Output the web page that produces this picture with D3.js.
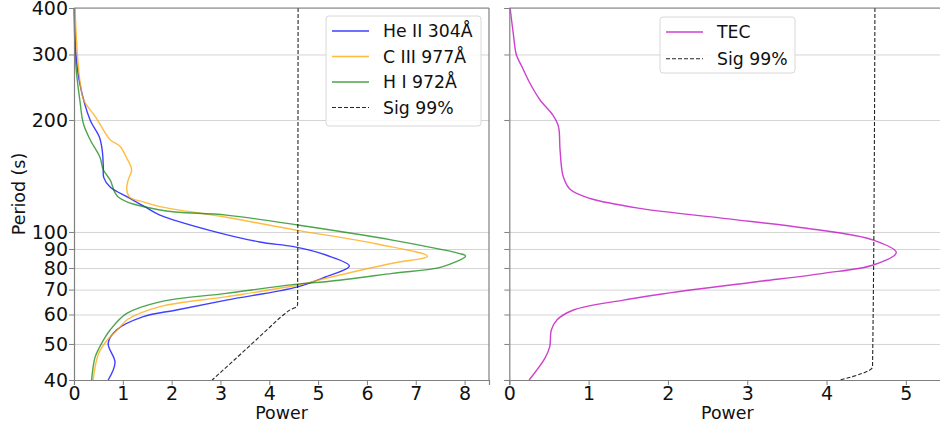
<!DOCTYPE html>
<html>
<head>
<meta charset="utf-8">
<script src="https://d3js.org/d3.v7.min.js"></script>
<style>
  body { margin: 0; background: #fff; }
  svg { display: block; font-family: "DejaVu Sans", sans-serif; }
</style>
</head>
<body>
<script>
// period ticks shared by both panels
var periodTicks = [40, 50, 60, 70, 80, 90, 100, 200, 300, 400];
var powerTicksLeft = [0, 1, 2, 3, 4, 5, 6, 7, 8];
var powerTicksRight = [0, 1, 2, 3, 4, 5];

// He II 304
var periodHe = [400, 300, 250, 200, 180, 165, 150, 140, 132, 124, 117, 111, 101, 94, 91.3, 86.7, 81, 75.8, 71.2, 65.6, 61.7, 59.2, 54.5, 50.2, 44.6, 40];
var powerHe  = [0.01, 0.04, 0.12, 0.33, 0.52, 0.58, 0.60, 0.61, 0.74, 1.10, 1.45, 1.76, 2.78, 3.80, 4.50, 5.16, 5.64, 5.16, 4.58, 3.12, 2.10, 1.42, 0.87, 0.70, 0.84, 0.70];

// C III 977
var periodC = [400, 300, 250, 226, 204, 177, 170, 158, 147, 138, 131, 124, 120.5, 117, 109.5, 101, 93, 86, 82.4, 75.1, 72, 67, 63, 58, 55.4, 51, 47, 40];
var powerC  = [0.02, 0.07, 0.13, 0.20, 0.44, 0.74, 0.94, 1.08, 1.18, 1.11, 1.08, 1.14, 1.42, 1.76, 3.12, 4.58, 6.18, 7.24, 6.52, 5.16, 4.58, 3.13, 1.76, 1.08, 0.94, 0.67, 0.50, 0.39];

// H I 972
var periodH = [400, 278, 226, 196, 177, 159, 147, 138, 124.4, 114.6, 111, 104.4, 95.1, 87.6, 86.2, 80.6, 77.4, 73.5, 72.4, 68.4, 64.9, 60.4, 54.5, 49.2, 46, 40];
var powerH  = [0.0, 0.04, 0.12, 0.19, 0.33, 0.53, 0.60, 0.74, 0.90, 1.76, 3.12, 4.58, 6.52, 7.88, 8.02, 7.54, 6.52, 5.16, 4.58, 3.12, 1.76, 1.08, 0.74, 0.53, 0.43, 0.36];

// significance, left panel
var periodSigL = [400, 64, 63, 62, 60, 55, 50, 45, 40];
var powerSigL  = [4.59, 4.58, 4.56, 4.45, 4.30, 3.98, 3.64, 3.26, 2.83];

// TEC
var periodTec = [400, 342, 299, 278, 251, 226, 206, 192, 166, 141, 130, 123, 115.7, 108.8, 102.3, 95.1, 88, 81.5, 77.4, 73.5, 69.8, 65.6, 61.7, 58, 54.5, 49.2, 45.8, 40];
var powerTec  = [0.01, 0.05, 0.09, 0.16, 0.26, 0.39, 0.55, 0.62, 0.64, 0.68, 0.77, 1.02, 1.65, 2.70, 3.75, 4.59, 4.88, 4.59, 3.96, 3.12, 2.28, 1.44, 0.81, 0.60, 0.53, 0.51, 0.45, 0.25];

// significance, right panel
var periodSigR = [400, 43.4, 40];
var powerSigR  = [4.61, 4.58, 4.17];

var width = 940, height = 429;
var yTop = 8, yBottom = 380;

var svg = d3.select("body").append("svg")
    .attr("width", width)
    .attr("height", height)
    .style("overflow", "hidden");

var y = d3.scaleLog().domain([40, 400]).range([yBottom, yTop]);

function toPoints(periods, powers) {
  return periods.map(function (p, i) { return [powers[i], p]; });
}

function drawPanel(x0, x1, xmax, xticks, showYLabels, series, legend) {
  var x = d3.scaleLinear().domain([0, xmax]).range([x0, x1]);
  var g = svg.append("g");

  // grid
  g.append("g")
      .attr("transform", "translate(" + x0 + ",0)")
      .call(d3.axisLeft(y).tickValues(periodTicks).tickSize(-(x1 - x0)).tickFormat(""))
      .call(function (s) {
        s.select(".domain").remove();
        s.selectAll("line").attr("stroke", "#d4d4d4").attr("stroke-width", 1);
      });

  var smooth = d3.line()
      .x(function (d) { return x(d[0]); })
      .y(function (d) { return y(d[1]); })
      .curve(d3.curveCatmullRom.alpha(0.5));
  // the significance curves are almost straight, keep them tight
  var tight = d3.line()
      .x(function (d) { return x(d[0]); })
      .y(function (d) { return y(d[1]); })
      .curve(d3.curveMonotoneY);

  series.forEach(function (s) {
    g.append("path")
        .datum(toPoints(s.periods, s.powers))
        .attr("fill", "none")
        .attr("stroke", s.color)
        .attr("stroke-opacity", s.opacity)
        .attr("stroke-width", s.dash ? 1.1 : 1.4)
        .attr("stroke-dasharray", s.dash ? "4,2" : null)
        .attr("d", s.dash ? tight : smooth);
  });

  // axes
  var ya = g.append("g")
      .attr("transform", "translate(" + x0 + ",0)")
      .call(d3.axisLeft(y).tickValues(periodTicks).tickSize(5).tickPadding(1)
        .tickFormat(showYLabels ? d3.format("d") : ""));
  var xa = g.append("g")
      .attr("transform", "translate(0," + yBottom + ")")
      .call(d3.axisBottom(x).tickValues(xticks).tickSize(5).tickPadding(2).tickFormat(d3.format("d")));
  [ya, xa].forEach(function (a) {
    a.attr("font-size", null).attr("font-family", null);
    a.select(".domain").attr("stroke", "#808080").attr("stroke-width", 1.2);
    a.selectAll(".tick line").attr("stroke", "#808080");
    a.selectAll("text").attr("fill", "#111").style("font-size", "19px");
  });

  // top and right spines
  g.append("line").attr("x1", x0).attr("x2", x1).attr("y1", yTop).attr("y2", yTop)
      .attr("stroke", "#808080").attr("stroke-width", 1.2);
  g.append("line").attr("x1", x1).attr("x2", x1).attr("y1", yTop).attr("y2", yBottom)
      .attr("stroke", "#808080").attr("stroke-width", 1.2);

  g.append("text")
      .attr("x", (x0 + x1) / 2)
      .attr("y", 419)
      .attr("text-anchor", "middle")
      .style("font-size", "17.4px")
      .attr("fill", "#111")
      .text("Power");

  // legend
  var lg = g.append("g");
  lg.append("rect")
      .attr("x", legend.x).attr("y", legend.y)
      .attr("width", legend.w).attr("height", legend.h)
      .attr("rx", 3)
      .attr("fill", "#fff").attr("fill-opacity", 0.85)
      .attr("stroke", "#d8d8d8");
  series.forEach(function (s, i) {
    var ly = legend.y + 15 + i * legend.step;
    lg.append("line")
        .attr("x1", legend.x + 6).attr("x2", legend.x + 43)
        .attr("y1", ly).attr("y2", ly)
        .attr("stroke", s.color)
        .attr("stroke-opacity", s.opacity)
        .attr("stroke-width", s.dash ? 1.1 : 1.4)
        .attr("stroke-dasharray", s.dash ? "4,2" : null);
    lg.append("text")
        .attr("x", legend.x + 57)
        .attr("y", ly)
        .attr("dy", "0.36em")
        .style("font-size", "17.3px")
        .attr("fill", "#111")
        .text(s.label);
  });
  return g;
}

drawPanel(74, 489, 8.5, powerTicksLeft, true, [
  { label: "He II 304Å", periods: periodHe, powers: powerHe, color: "#0000ff", opacity: 0.75 },
  { label: "C III 977Å", periods: periodC, powers: powerC, color: "#ffa500", opacity: 0.75 },
  { label: "H I 972Å", periods: periodH, powers: powerH, color: "#008000", opacity: 0.7 },
  { label: "Sig 99%", periods: periodSigL, powers: powerSigL, color: "#000", opacity: 0.85, dash: true }
], { x: 326, y: 16, w: 155, h: 110, step: 25.5 });

drawPanel(509.3, 945.5, 5.5, powerTicksRight, false, [
  { label: "TEC", periods: periodTec, powers: powerTec, color: "#bf00bf", opacity: 0.75 },
  { label: "Sig 99%", periods: periodSigR, powers: powerSigR, color: "#000", opacity: 0.85, dash: true }
], { x: 660, y: 17, w: 135, h: 56, step: 26.7 });

svg.append("text")
    .attr("transform", "translate(25," + (yTop + yBottom) / 2 + ") rotate(-90)")
    .attr("text-anchor", "middle")
    .style("font-size", "17.4px")
    .attr("fill", "#111")
    .text("Period (s)");
</script>
</body>
</html>
